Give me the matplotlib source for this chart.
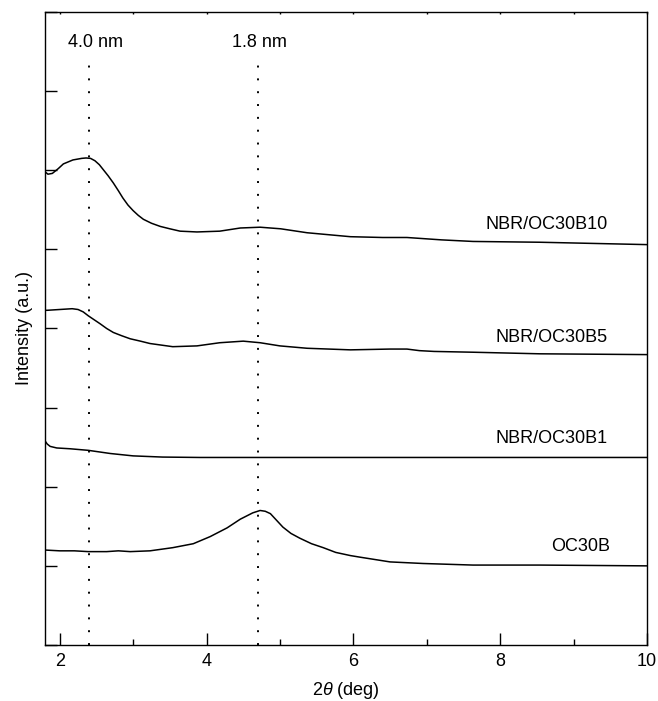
import matplotlib
matplotlib.use("Agg")
import matplotlib.pyplot as plt
from matplotlib.ticker import MultipleLocator

plt.rcParams['font.family'] = ['Liberation Sans', 'DejaVu Sans']
plt.rcParams['mathtext.fontset'] = 'custom'
plt.rcParams['mathtext.rm'] = 'Liberation Sans'
plt.rcParams['mathtext.it'] = 'Liberation Sans:italic'

# ---- data ----
x_b10 = [1.80, 1.84, 1.90, 1.98, 2.05, 2.18, 2.30, 2.36, 2.42, 2.48, 2.54, 2.60, 2.66, 2.73,
         2.80, 2.86, 2.93, 3.00, 3.07, 3.14, 3.25, 3.37, 3.50, 3.64, 3.87, 4.18, 4.46, 4.73,
         5.01, 5.37, 5.96, 6.40, 6.73, 7.20, 7.63, 8.54, 10.0]
y_b10 = [5.98, 5.95, 5.96, 6.02, 6.08, 6.13, 6.15, 6.155, 6.15, 6.12, 6.07, 6.00, 5.93, 5.84,
         5.74, 5.65, 5.56, 5.49, 5.43, 5.38, 5.33, 5.29, 5.26, 5.23, 5.22, 5.23, 5.27, 5.28,
         5.26, 5.21, 5.16, 5.15, 5.15, 5.12, 5.10, 5.09, 5.06]

x_b5 = [1.80, 1.83, 2.00, 2.17, 2.25, 2.32, 2.39, 2.47, 2.55, 2.64, 2.73, 2.84, 2.96, 3.10,
        3.23, 3.54, 3.87, 4.18, 4.50, 4.73, 5.00, 5.37, 5.96, 6.50, 6.73, 6.90, 7.10, 7.63,
        8.54, 10.0]
y_b5 = [4.23, 4.23, 4.24, 4.25, 4.24, 4.21, 4.16, 4.11, 4.06, 4.00, 3.95, 3.91, 3.87, 3.84,
        3.81, 3.77, 3.78, 3.82, 3.84, 3.82, 3.78, 3.75, 3.73, 3.74, 3.74, 3.72, 3.71, 3.70,
        3.68, 3.67]

x_b1 = [1.80, 1.83, 1.87, 1.96, 2.14, 2.39, 2.69, 3.00, 3.40, 3.91, 5.00, 7.00, 10.0]
y_b1 = [2.58, 2.54, 2.51, 2.49, 2.48, 2.46, 2.42, 2.39, 2.375, 2.37, 2.37, 2.37, 2.37]

x_oc = [1.80, 2.00, 2.20, 2.39, 2.64, 2.80, 2.96, 3.23, 3.54, 3.82, 4.05, 4.28, 4.46, 4.63,
        4.73, 4.80, 4.87, 4.95, 5.04, 5.15, 5.27, 5.43, 5.59, 5.76, 5.96, 6.09, 6.50, 6.95,
        7.63, 8.54, 10.0]
y_oc = [1.20, 1.19, 1.19, 1.18, 1.18, 1.19, 1.18, 1.19, 1.23, 1.28, 1.37, 1.48, 1.59, 1.67,
        1.70, 1.69, 1.66, 1.58, 1.49, 1.41, 1.35, 1.28, 1.23, 1.17, 1.13, 1.11, 1.05, 1.03,
        1.01, 1.01, 1.00]

series_x = [x_b10, x_b5, x_b1, x_oc]
series_y = [y_b10, y_b5, y_b1, y_oc]
series_names = ["NBR/OC30B10", "NBR/OC30B5", "NBR/OC30B1", "OC30B"]
label_x = [9.47, 9.47, 9.46, 9.50]
label_y = [5.32, 3.89, 2.61, 1.24]

peak_pos = [2.40, 4.70]
peak_names = ["4.0 nm", "1.8 nm"]
peak_label_x = [2.49, 4.72]

# ---- figure ----
fig = plt.figure(figsize=(6.58, 7.01), dpi=100)
ax = fig.add_axes([0.0684, 0.0799, 0.9149, 0.9030])

for xs, ys in zip(series_x, series_y):
    ax.plot(xs, ys, color='black', lw=1.1)

for nm, lx, ly in zip(series_names, label_x, label_y):
    ax.text(lx, ly, nm, ha='right', va='center', fontsize=13)

for p, nm, lx in zip(peak_pos, peak_names, peak_label_x):
    ax.plot([p, p], [0, 7.41], color='black', lw=1.4, linestyle=(0, (1, 5.6)))
    ax.text(lx, 7.61, nm, ha='center', va='center', fontsize=13)

ax.set_xlim(1.8, 10)
ax.set_ylim(0, 8)
ax.xaxis.set_major_locator(MultipleLocator(2))
ax.xaxis.set_minor_locator(MultipleLocator(1))
ax.yaxis.set_major_locator(MultipleLocator(1))
ax.set_yticklabels([])
ax.tick_params(axis='x', which='major', direction='in', length=8.6, width=1.0,
               labelsize=13, pad=6, top=True)
ax.tick_params(axis='x', which='minor', direction='in', length=4.3, width=1.0, top=True)
ax.tick_params(axis='x', which='both', top=True)
ax.tick_params(axis='y', which='major', direction='in', length=8.6, width=1.0, labelleft=False)
# tiny ticks on the top axis
for t in ax.xaxis.get_major_ticks() + ax.xaxis.get_minor_ticks():
    t.tick2line.set_markersize(1.5)
for s in ax.spines.values():
    s.set_linewidth(1.0)

ax.set_xlabel(r"2$\it{\theta}$ (deg)", fontsize=13)
ax.xaxis.set_label_coords(0.5, -0.056)
ax.set_ylabel("Intensity (a.u.)", fontsize=13)
ax.yaxis.set_label_coords(-0.020, 0.5)

fig.savefig("out.png", dpi=100)
